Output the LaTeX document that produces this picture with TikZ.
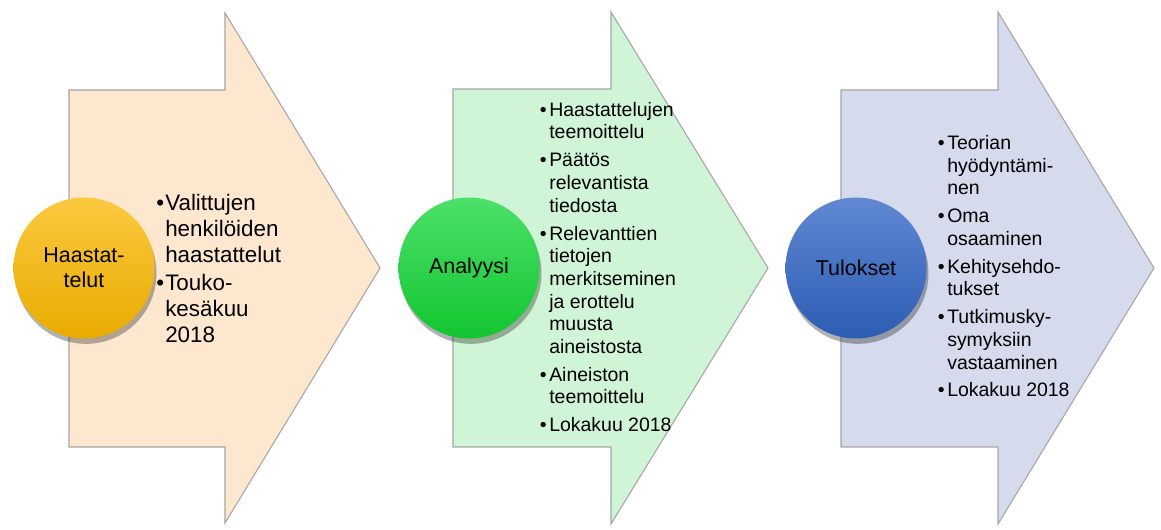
\documentclass[tikz,border=0pt]{standalone}
\usepackage{fontspec}
\setmainfont{Liberation Sans}
\usetikzlibrary{shadows}
\definecolor{peachfill}{HTML}{FDE8CF}
\definecolor{greenfill}{HTML}{D0F5D6}
\definecolor{bluefill}{HTML}{D5DAEC}
\definecolor{arrowline}{HTML}{A6A6A6}
\definecolor{ytop}{HTML}{FCC840}
\definecolor{ymid}{HTML}{FFC000}
\definecolor{ybot}{HTML}{E8AC00}
\definecolor{gtop}{HTML}{4CE068}
\definecolor{gmid}{HTML}{18E33E}
\definecolor{gbot}{HTML}{12C530}
\definecolor{btop}{HTML}{6088D2}
\definecolor{bmid}{HTML}{4371C6}
\definecolor{bbot}{HTML}{2D5CB4}
\newcommand{\bul}{\llap{\textbullet\hspace{2pt}}}
\newcommand{\bulA}{\llap{\textbullet\hspace{0.8pt}}}
\begin{document}
\begin{tikzpicture}[x=0.75pt,y=-0.75pt,
  chevron/.style={draw=arrowline, line width=0.8pt},
  disc/.style={circle, minimum size=105.75pt, inner sep=0pt, align=center,
    font=\fontsize{16.1}{18.75}\selectfont,
    drop shadow={shadow xshift=1.5pt, shadow yshift=-4pt, opacity=0.3, fill=black}},
  itemsA/.style={anchor=base west, align=left, inner sep=0pt, font=\fontsize{16.8}{19.5}\selectfont},
  itemsB/.style={anchor=base west, align=left, inner sep=0pt, font=\fontsize{14.6}{16.95}\selectfont},
]
\useasboundingbox[fill=white] (0,0) rectangle (1161,530);

% arrows
\draw[chevron, fill=peachfill] (69,90) -- (225,90) -- (225,13) -- (380,268) -- (225,523) -- (225,447) -- (69,447) -- cycle;
\draw[chevron, fill=greenfill] (453,89) -- (611,89) -- (611,12) -- (768,268) -- (611,524) -- (611,447) -- (453,447) -- cycle;
\draw[chevron, fill=bluefill] (841,90) -- (998,90) -- (998,12) -- (1154,268) -- (998,524) -- (998,447) -- (841,447) -- cycle;

% circles
\node[disc, top color=ytop, middle color=ymid, bottom color=ybot] (c1) at (84,268) {Haastat-\\telut};
\node[disc, top color=gtop, middle color=gmid, bottom color=gbot] (c2) at (469,268) {Analyysi};
\node[disc, top color=btop, middle color=bmid, bottom color=bbot] (c3) at (856,268) {Tulokset};

% texts (anchored at the baseline of the last line)
\node[itemsA] (t1) at (165,343) {\bulA Valittujen\\henkilöiden\\haastattelut\\[1.5pt]\bulA Touko-\\kesäkuu\\2018};
\node[itemsB] (t2) at (549,432) {\bul Haastattelujen\\teemoittelu\\[4.1pt]\bul Päätös\\relevantista\\tiedosta\\[4.1pt]\bul Relevanttien\\tietojen\\merkitseminen\\ja erottelu\\muusta\\aineistosta\\[4.1pt]\bul Aineiston\\teemoittelu\\[4.1pt]\bul Lokakuu 2018};
\node[itemsB] (t3) at (947,397) {\bul Teorian\\hyödyntämi-\\nen\\[4pt]\bul Oma\\osaaminen\\[4pt]\bul Kehitysehdo-\\tukset\\[4pt]\bul Tutkimusky-\\symyksiin\\vastaaminen\\[4pt]\bul Lokakuu 2018};
\end{tikzpicture}
\end{document}
